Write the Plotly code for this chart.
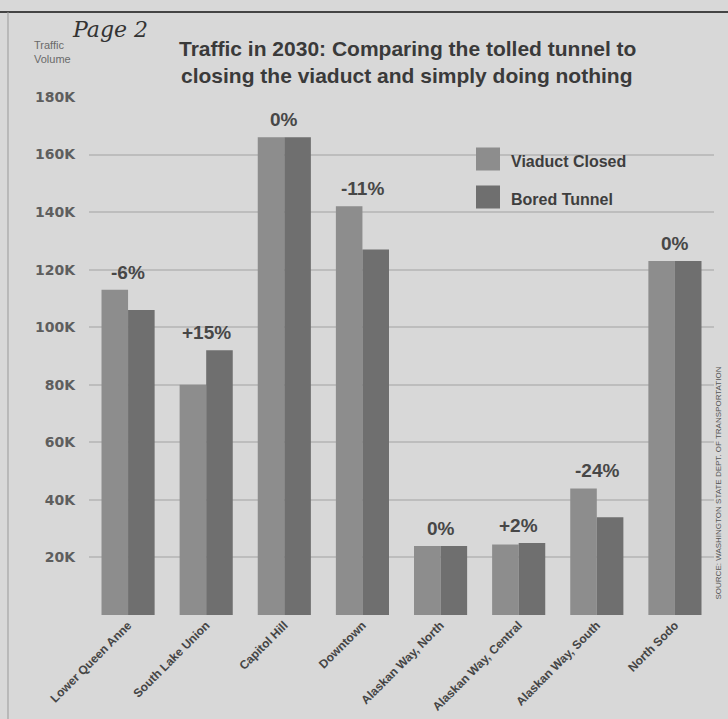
import plotly.graph_objects as go

categories = ["Lower Queen Anne", "South Lake Union", "Capitol Hill", "Downtown",
              "Alaskan Way, North", "Alaskan Way, Central", "Alaskan Way, South", "North Sodo"]
viaduct_closed = [113, 80, 166, 142, 24, 24.5, 44, 123]   # thousands
bored_tunnel = [106, 92, 166, 127, 24, 25, 34, 123]       # thousands
pct_change = ["-6%", "+15%", "0%", "-11%", "0%", "+2%", "-24%", "0%"]
tick_vals = [20, 40, 60, 80, 100, 120, 140, 160, 180]
tick_text = ["20K", "40K", "60K", "80K", "100K", "120K", "140K", "160K", "180K"]
series_names = ["Viaduct Closed", "Bored Tunnel"]
series_colors = ["#8d8d8d", "#6f6f6f"]

BG = "#d8d8d8"
FONT = "Liberation Sans, Arial, sans-serif"
WIDE = "DejaVu Sans, Verdana, sans-serif"

fig = go.Figure()
for name, vals, col in zip(series_names, [viaduct_closed, bored_tunnel], series_colors):
    fig.add_trace(go.Bar(name=name, x=categories, y=vals,
                         marker=dict(color=col, line=dict(width=0))))

for c, a, b, p in zip(categories, viaduct_closed, bored_tunnel, pct_change):
    fig.add_annotation(x=c, y=max(a, b), text="<b>" + p + "</b>", showarrow=False,
                       yanchor="bottom", yshift=5,
                       font=dict(family=FONT, size=19, color="#474747"))

fig.update_layout(
    width=728, height=719,
    paper_bgcolor=BG, plot_bgcolor=BG,
    margin=dict(l=89, r=14, t=97, b=104),
    barmode="group", bargap=0.32, bargroupgap=0,
    font=dict(family=FONT, color="#505050"),
    showlegend=False,
    xaxis=dict(tickangle=-45, tickfont=dict(family=FONT, size=12, color="#454545"),
               showgrid=False, showline=False, ticks="", automargin=False,
               ticklabelstandoff=0,
               tickvals=categories, ticktext=["<b>" + c + "</b>" for c in categories]),
    yaxis=dict(range=[0, 180], tickvals=tick_vals, ticktext=["<b>" + t + "</b>" for t in tick_text],
               tickfont=dict(family=WIDE, size=14, color="#5e5e5e"), automargin=False,
               showgrid=True, gridcolor="#bdbdbd", gridwidth=2, zeroline=False, ticks="",
               ticklabelstandoff=13),
)

W = 625.0
H = 518.0
def px(x):
    return (x - 89) / W
def py(y):
    return (615 - y) / H

# title
for line, yc in [("Traffic in 2030: Comparing the tolled tunnel to", 48),
                 ("closing the viaduct and simply doing nothing", 75)]:
    fig.add_annotation(xref="paper", yref="paper", x=px(407), y=py(yc), xanchor="center",
                       yanchor="middle", text="<b>" + line + "</b>", showarrow=False,
                       font=dict(family=FONT, size=21, color="#3a3a3a"))

# legend drawn manually with large swatches
for name, col, yc in zip(series_names, series_colors, [159, 197]):
    fig.add_shape(type="rect", xref="paper", yref="paper", x0=px(476), x1=px(500),
                  y0=py(yc + 11.5), y1=py(yc - 11.5), fillcolor=col, line=dict(width=0))
    fig.add_annotation(xref="paper", yref="paper", x=px(509), y=py(yc + 2), xanchor="left",
                       yanchor="middle", text="<b>" + name + "</b>", showarrow=False,
                       font=dict(family=FONT, size=16, color="#3e3e3e"))

fig.add_annotation(xref="paper", yref="paper", x=px(32), y=py(67), xanchor="left", yanchor="bottom",
                   text="Traffic<br>Volume", showarrow=False, align="left",
                   font=dict(family=FONT, size=11, color="#6a6a6a"))
fig.add_annotation(xref="paper", yref="paper", x=px(70), y=py(44), xanchor="left", yanchor="bottom",
                   text="<i>Page 2</i>", showarrow=False,
                   font=dict(family="DejaVu Serif, serif", size=22, color="#333333"))
fig.add_annotation(xref="paper", yref="paper", x=px(718), y=py(365), xanchor="center", yanchor="top",
                   text="SOURCE: WASHINGTON STATE DEPT. OF TRANSPORTATION", showarrow=False,
                   textangle=-90, font=dict(family=FONT, size=8, color="#555555"))
fig.add_shape(type="line", xref="paper", yref="paper", x0=px(0), x1=px(728), y0=py(12), y1=py(12),
              line=dict(color="#444444", width=2))
fig.add_shape(type="line", xref="paper", yref="paper", x0=px(8), x1=px(8), y0=py(719), y1=py(12),
              line=dict(color="#999999", width=1))

fig.write_html("out.html")
